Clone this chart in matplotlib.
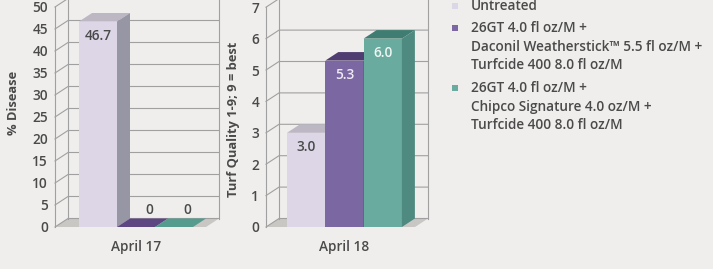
import matplotlib.pyplot as plt
from matplotlib.patches import Polygon, Rectangle

# data
treatments = ["Untreated",
              "26GT 4.0 fl oz/M +\nDaconil Weatherstick\u2122 5.5 fl oz/M +\nTurfcide 400 8.0 fl oz/M",
              "26GT 4.0 fl oz/M +\nChipco Signature 4.0 oz/M +\nTurfcide 400 8.0 fl oz/M"]
disease = [46.7, 0, 0]
disease_labels = ["46.7", "0", "0"]
quality = [3.0, 5.3, 6.0]
quality_labels = ["3.0", "5.3", "6.0"]
disease_ticks = list(range(0, 55, 5))
quality_ticks = list(range(0, 8))

W, H = 713, 269
BG = "#efeeec"
TXT = "#4a4a4a"
GRID = "#a0a0a0"
front_cols = ["#dcd6e6", "#7b68a3", "#69ab9e"]
top_cols = ["#bcb7c3", "#4f3c70", "#3f7c71"]
side_cols = ["#9796a4", "#5a4a80", "#4e8a80"]
flat_cols = ["#bcb7c3", "#5d4682", "#559c8e"]
label_cols = [TXT, "#efeaf5", "#eef5f3"]

plt.rcParams["font.family"] = ["Open Sans", "DejaVu Sans"]
plt.rcParams["font.weight"] = "semibold"
plt.rcParams["axes.labelweight"] = "bold"

fig = plt.figure(figsize=(W / 100, H / 100), dpi=100, facecolor=BG)


def px2pt(p):
    return p * 0.72


def panel(xl_px, xr_px, bar0_px, unit_px, ymax, top_px, values, labels,
          ticks, xlabel, ylabel, ylab_x, ylab_y):
    y0_px = 227
    ax = fig.add_axes([xl_px / W, (H - y0_px) / H, (xr_px - xl_px) / W,
                       (y0_px - top_px) / H])
    ax.set_facecolor("none")
    xlo = -0.5 - (bar0_px - xl_px) / unit_px
    xhi = xlo + (xr_px - xl_px) / unit_px
    ax.set_xlim(xlo, xhi)
    ax.set_ylim(0, ymax)
    ypx = (y0_px - top_px) / ymax
    ddx = 13 / unit_px
    ddy = 8.5 / ypx

    # floor
    ax.add_patch(Polygon([(xlo, 0), (xhi, 0), (xhi + ddx, ddy), (xlo + ddx, ddy)],
                         closed=True, fc="#c9c7c4", ec="none", clip_on=False, zorder=1))
    # walls and grid
    kw = dict(color=GRID, lw=0.8, clip_on=False, zorder=2)
    ax.plot([xlo, xlo], [0, ymax], **kw)
    ax.plot([xlo + ddx, xlo + ddx], [ddy, ymax + ddy], **kw)
    ax.plot([xhi + ddx, xhi + ddx], [ddy, ymax + ddy], **kw)
    for t in ticks:
        ax.plot([xlo, xlo + ddx, xhi + ddx], [t, t + ddy, t + ddy], **kw)

    # bars
    for i, v in enumerate(values):
        if v > 0:
            ax.bar(i, v, width=1.0, color=front_cols[i], zorder=3 + i, clip_on=False)
            ax.add_patch(Polygon([(i - 0.5, v), (i + 0.5, v), (i + 0.5 + ddx, v + ddy),
                                  (i - 0.5 + ddx, v + ddy)], closed=True,
                                 fc=top_cols[i], ec="none", zorder=3 + i, clip_on=False))
            ax.add_patch(Polygon([(i + 0.5, 0), (i + 0.5 + ddx, ddy), (i + 0.5 + ddx, v + ddy),
                                  (i + 0.5, v)], closed=True,
                                 fc=side_cols[i], ec="none", zorder=3 + i, clip_on=False))
            ax.annotate(labels[i], (i, v), xytext=(0, -px2pt(14)),
                        textcoords="offset points", ha="center", va="center",
                        fontsize=9.8, color=label_cols[i], zorder=10)
        else:
            ax.add_patch(Polygon([(i - 0.5, 0), (i + 0.5, 0), (i + 0.5 + ddx, ddy),
                                  (i - 0.5 + ddx, ddy)], closed=True,
                                 fc=flat_cols[i], ec="none", zorder=3 + i, clip_on=False))
            ax.annotate(labels[i], (i + ddx, ddy), xytext=(0, px2pt(9)),
                        textcoords="offset points", ha="center", va="center",
                        fontsize=9.8, color=TXT, zorder=10)

    for s in ax.spines.values():
        s.set_visible(False)
    ax.set_yticks(ticks)
    ax.set_yticklabels([str(t) for t in ticks])
    ax.set_xticks([1])
    ax.set_xticklabels([xlabel])
    ax.tick_params(axis="y", length=0, pad=px2pt(7), labelsize=9.8, labelcolor=TXT)
    ax.tick_params(axis="x", length=0, pad=px2pt(13), labelsize=9.8, labelcolor=TXT)
    ax.set_ylabel(ylabel, fontsize=9.3, color=TXT, fontweight="bold")
    ax.yaxis.set_label_coords(ylab_x, ylab_y)
    return ax


panel(55, 206, 79, 38, 50, 7, disease, disease_labels, disease_ticks,
      "April 17", "% Disease", (20 - 55) / 151, (227 - 103) / 220)
panel(266, 415, 287, 38.3, 7, 7.2, quality, quality_labels, quality_ticks,
      "April 18", "Turf Quality 1-9; 9 = best", (240 - 266) / 149, (227 - 119) / 220)

# legend
leg_y = [6, 28, 88]
for c, name, y in zip(front_cols, treatments, leg_y):
    fig.patches.append(Rectangle((452 / W, (H - y - 3) / H), 6 / W, 6 / H,
                                 transform=fig.transFigure, fc=c, ec="none"))
    fig.text(471 / W, (H - y + 7) / H, name, ha="left", va="top", fontsize=9.8,
             color=TXT, linespacing=1.42)

fig.savefig("out.png", dpi=100, facecolor=BG)
